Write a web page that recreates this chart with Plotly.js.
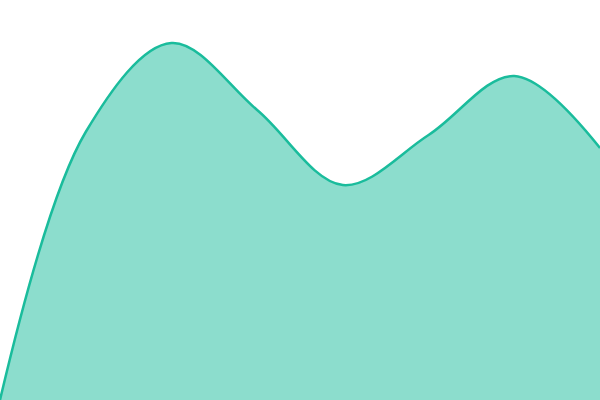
<!DOCTYPE html>
<html>
<head>
<meta charset="utf-8">
<script src="https://cdn.plot.ly/plotly-3.0.1.min.js"></script>
<style>
  html, body { margin: 0; padding: 0; background: #fff; }
  #chart { width: 600px; height: 400px; }
</style>
</head>
<body>
<div id="chart"></div>
<script>
// points, evenly spaced across the width
var xs = [0, 1, 2, 3, 4, 5, 6, 7];
var ys = [0, 26.8, 35.7, 29, 21.5, 26.5, 32.4, 25.2];

var trace = {
    type: 'scatter',
    mode: 'lines',
    x: xs,
    y: ys,
    fill: 'tozeroy',
    fillcolor: 'rgba(26,188,156,0.5)',
    line: { color: '#1abc9c', width: 2.5, shape: 'spline', smoothing: 1 },
    hoverinfo: 'none'
};

var layout = {
    width: 600,
    height: 400,
    margin: { t: 0, l: 0, r: 0, b: 0 },
    showlegend: false,
    paper_bgcolor: '#fff',
    plot_bgcolor: '#fff',
    xaxis: { range: [0, 7], visible: false, fixedrange: true },
    yaxis: { range: [0, 40], visible: false, fixedrange: true }
};

Plotly.newPlot('chart', [trace], layout, { displayModeBar: false, staticPlot: true });
</script>
</body>
</html>
